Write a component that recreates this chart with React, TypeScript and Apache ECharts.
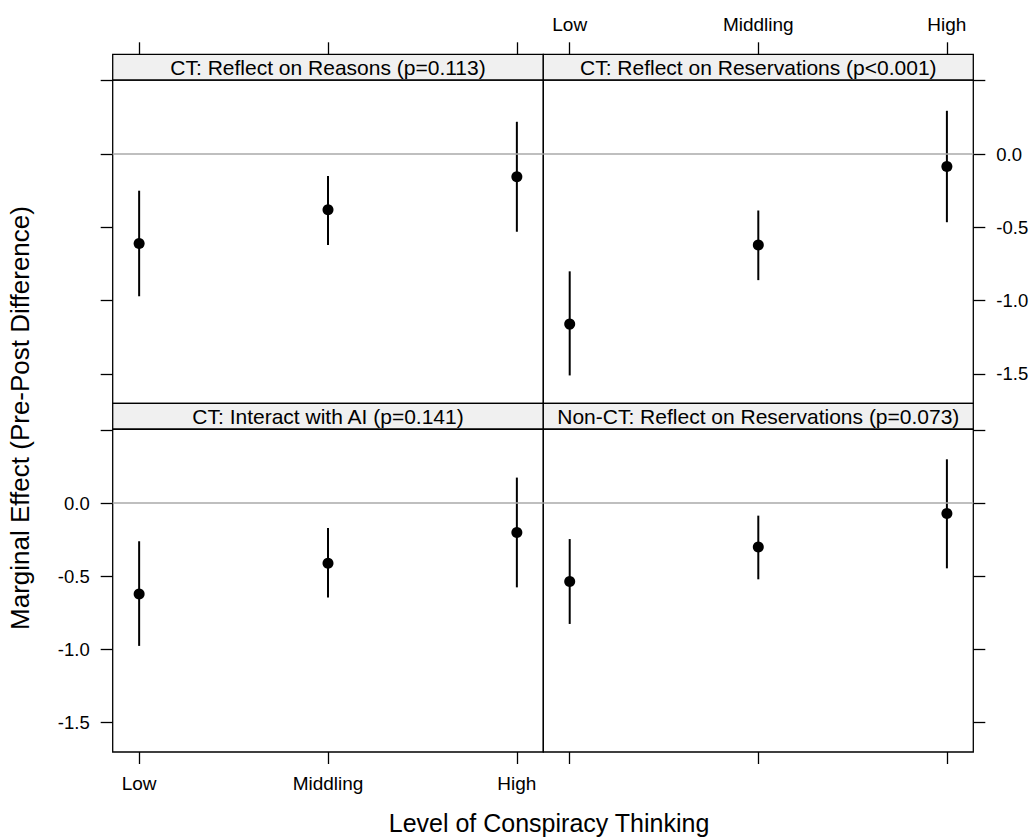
import React, { useEffect, useRef } from "react";
import * as echarts from "echarts";

const levels = ["Low", "Middling", "High"];
const levelPos = [1, 2, 3];

const panelTitles = [
  "CT: Reflect on Reasons (p=0.113)",
  "CT: Reflect on Reservations (p<0.001)",
  "CT: Interact with AI (p=0.141)",
  "Non-CT: Reflect on Reservations (p=0.073)",
];

const reasonsEst = [-0.61, -0.38, -0.155];
const reasonsLo = [-0.97, -0.62, -0.53];
const reasonsHi = [-0.25, -0.15, 0.22];

const reservEst = [-1.16, -0.62, -0.085];
const reservLo = [-1.51, -0.86, -0.465];
const reservHi = [-0.8, -0.385, 0.295];

const aiEst = [-0.62, -0.41, -0.2];
const aiLo = [-0.975, -0.645, -0.575];
const aiHi = [-0.26, -0.17, 0.175];

const nonCtEst = [-0.535, -0.3, -0.07];
const nonCtLo = [-0.825, -0.52, -0.445];
const nonCtHi = [-0.245, -0.085, 0.3];

const yTickValues = [-1.5, -1.0, -0.5, 0.0, 0.5];
const yLabelValues = [-1.5, -1.0, -0.5, 0.0];

const xTitle = "Level of Conspiracy Thinking";
const yTitle = "Marginal Effect (Pre-Post Difference)";

const panels = [
  { est: reasonsEst, lo: reasonsLo, hi: reasonsHi },
  { est: reservEst, lo: reservLo, hi: reservHi },
  { est: aiEst, lo: aiLo, hi: aiHi },
  { est: nonCtEst, lo: nonCtLo, hi: nonCtHi },
];

const FONT = "Liberation Sans, Arial, Helvetica, sans-serif";

export default function App() {
  const ref = useRef<HTMLDivElement>(null);

  useEffect(() => {
    if (!ref.current) return;
    const chart = echarts.init(ref.current, undefined, { renderer: "svg" });

    const L = 112.7;
    const M = 543.3;
    const R = 973.3;
    const stripTop = [54.3, 403.3];
    const panelTop = [80, 429.3];
    const panelBottom = [403.3, 752];
    const stripH = 25.7;

    const grids: any[] = [];
    const xAxes: any[] = [];
    const yAxes: any[] = [];
    const series: any[] = [];
    const graphics: any[] = [];

    for (let i = 0; i < 4; i++) {
      const row = Math.floor(i / 2);
      const col = i % 2;
      const left = col === 0 ? L : M;
      const width = col === 0 ? M - L : R - M;
      grids.push({
        left,
        top: panelTop[row],
        width,
        height: panelBottom[row] - panelTop[row],
        show: true,
        borderColor: "#000",
        borderWidth: 1.3,
        backgroundColor: "transparent",
        containLabel: false,
      });
      const showXLabel = (row === 0 && col === 1) || (row === 1 && col === 0);
      const showYLabel = (row === 0 && col === 1) || (row === 1 && col === 0);
      xAxes.push({
        type: "value",
        gridIndex: i,
        min: 0.86,
        max: 3.14,
        position: row === 0 ? "top" : "bottom",
        offset: row === 0 ? stripH : 0,
        axisLine: { show: false, onZero: false },
        splitLine: { show: false },
        axisTick: {
          show: true,
          inside: false,
          length: 12,
          customValues: levelPos,
          lineStyle: { color: "#000", width: 1.3 },
        },
        axisLabel: {
          show: showXLabel,
          customValues: levelPos,
          margin: row === 0 ? 20 : 22,
          color: "#000",
          fontFamily: FONT,
          fontSize: 19,
          formatter: (v: number) => levels[Math.round(v) - 1] ?? "",
        },
      });
      yAxes.push({
        type: "value",
        gridIndex: i,
        min: -1.7,
        max: 0.505,
        position: col === 0 ? "left" : "right",
        axisLine: { show: false, onZero: false },
        splitLine: { show: false },
        axisTick: {
          show: true,
          inside: false,
          length: 12,
          customValues: yTickValues,
          lineStyle: { color: "#000", width: 1.3 },
        },
        axisLabel: {
          show: showYLabel,
          customValues: yLabelValues,
          margin: 23,
          color: "#000",
          fontFamily: FONT,
          fontSize: 18.5,
          formatter: (v: number) => v.toFixed(1),
        },
      });

      const p = panels[i];
      const pts = levelPos.map((x, k) => [x, p.est[k]]);
      const bars = levelPos.map((x, k) => [x, p.lo[k], p.hi[k]]);

      series.push({
        type: "line",
        xAxisIndex: i,
        yAxisIndex: i,
        data: [],
        silent: true,
        markLine: {
          silent: true,
          symbol: ["none", "none"],
          label: { show: false },
          lineStyle: { color: "#aaaaaa", width: 1.5, type: "solid", opacity: 1 },
          data: [{ yAxis: 0 }],
        },
        z: 1,
      });
      series.push({
        type: "custom",
        xAxisIndex: i,
        yAxisIndex: i,
        data: bars,
        encode: { x: 0, y: [1, 2] },
        renderItem: (params: any, api: any) => {
          const x = api.value(0);
          const p1 = api.coord([x, api.value(1)]);
          const p2 = api.coord([x, api.value(2)]);
          return {
            type: "line",
            shape: { x1: p1[0], y1: p1[1], x2: p2[0], y2: p2[1] },
            style: { stroke: "#000", lineWidth: 2 },
          };
        },
        z: 2,
      });
      series.push({
        type: "scatter",
        xAxisIndex: i,
        yAxisIndex: i,
        data: pts,
        symbol: "circle",
        symbolSize: 11,
        itemStyle: { color: "#000", opacity: 1 },
        z: 3,
      });

      graphics.push({
        type: "rect",
        shape: { x: left, y: stripTop[row], width, height: stripH },
        style: { fill: "#F0F0F0", stroke: "#000", lineWidth: 1.3 },
        z: 10,
      });
      graphics.push({
        type: "text",
        x: left + width / 2,
        y: stripTop[row] + stripH / 2 + 0.5,
        style: {
          text: panelTitles[i],
          align: "center",
          verticalAlign: "middle",
          fontFamily: FONT,
          fontSize: 21,
          fill: "#000",
        },
        z: 11,
      });
    }

    graphics.push({
      type: "text",
      x: 549,
      y: 823,
      style: {
        text: xTitle,
        align: "center",
        verticalAlign: "middle",
        fontFamily: FONT,
        fontSize: 25,
        fill: "#000",
      },
    });
    graphics.push({
      type: "text",
      x: 20,
      y: 418,
      rotation: Math.PI / 2,
      style: {
        text: yTitle,
        align: "center",
        verticalAlign: "middle",
        fontFamily: FONT,
        fontSize: 26,
        fill: "#000",
      },
    });

    chart.setOption({
      animation: false,
      backgroundColor: "#fff",
      grid: grids,
      xAxis: xAxes,
      yAxis: yAxes,
      series,
      graphic: graphics,
    });

    return () => chart.dispose();
  }, []);

  return (
    <div
      ref={ref}
      style={{ position: "absolute", left: 0, top: 0, width: 1033, height: 838 }}
    />
  );
}
